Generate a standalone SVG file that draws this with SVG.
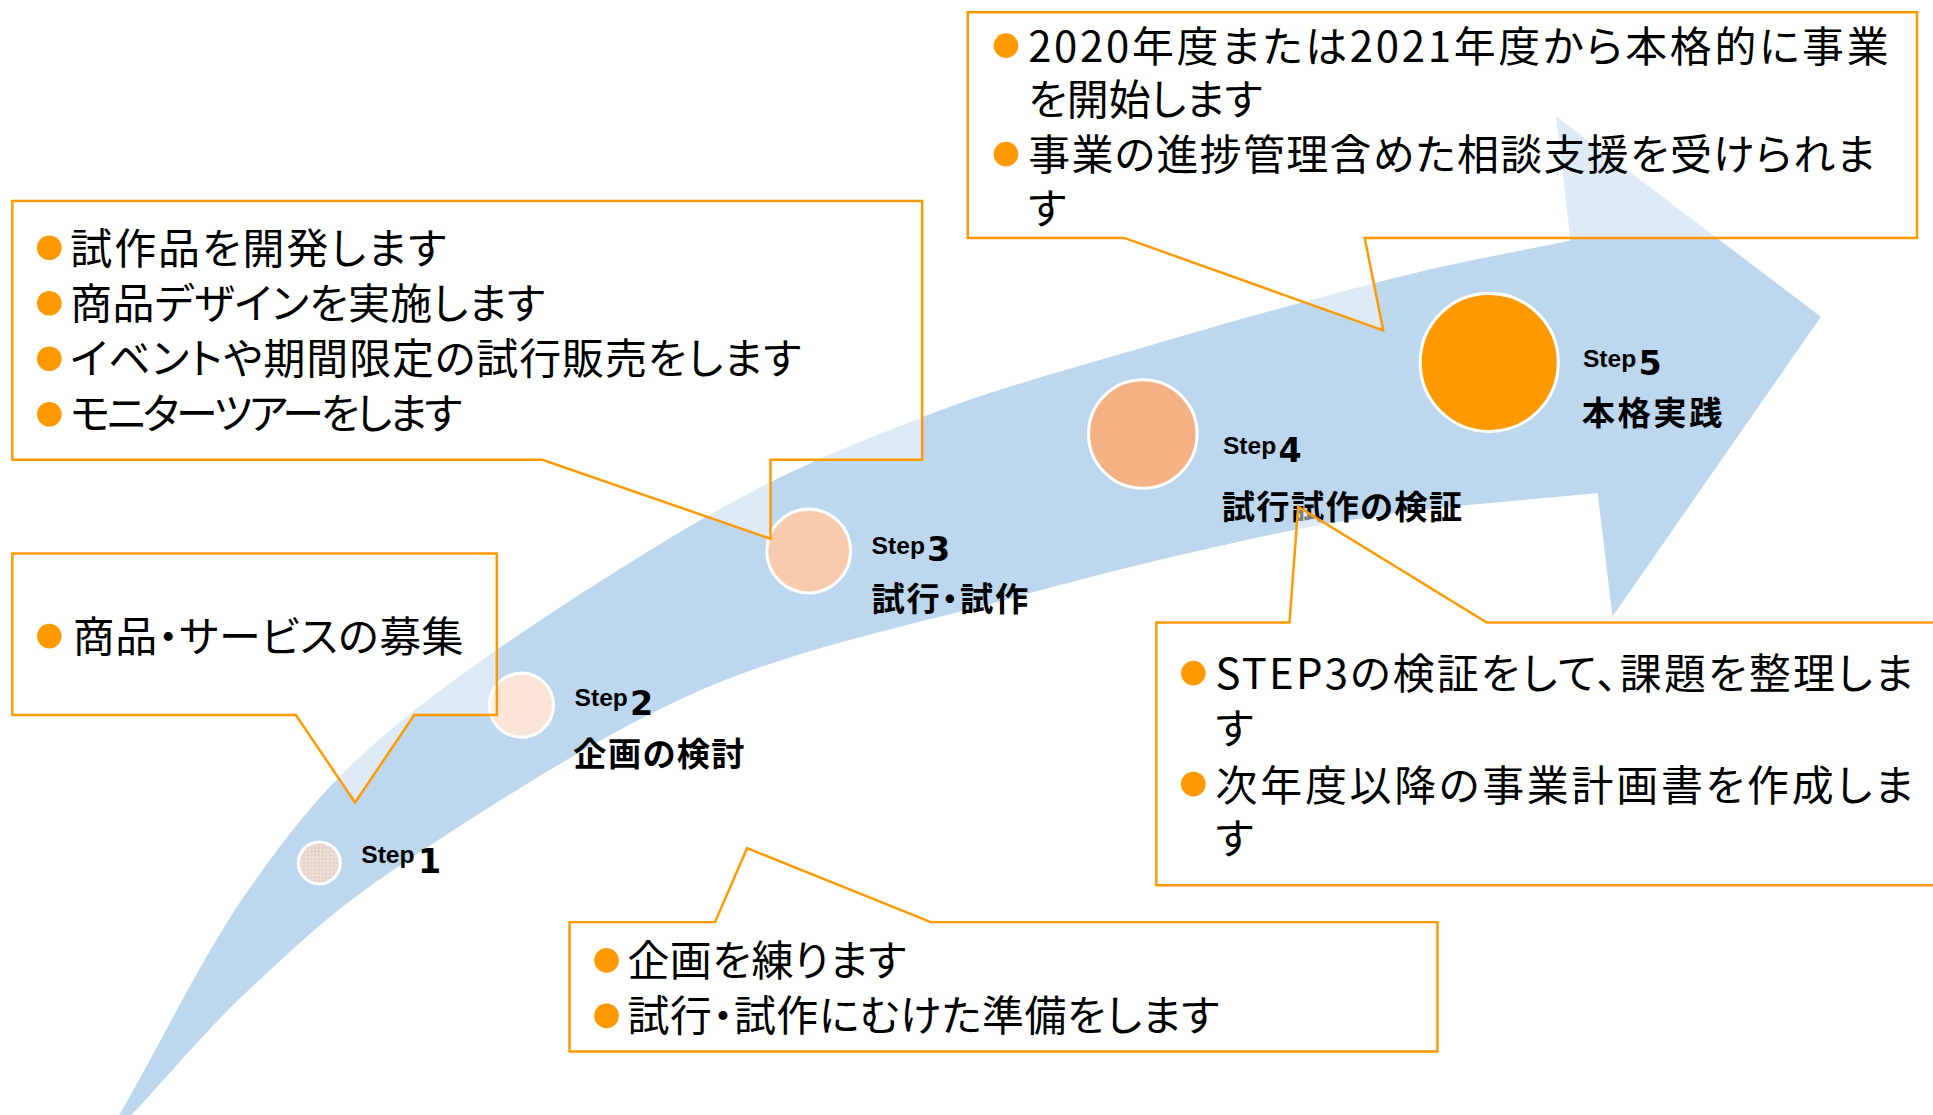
<svg xmlns="http://www.w3.org/2000/svg" width="1933" height="1115" viewBox="0 0 1933 1115">
<defs>
<style>
.callout{fill:#ffffff;fill-opacity:0.5;stroke:#FF9900;stroke-width:2;stroke-linejoin:miter}
.txt{font-family:"Noto Sans CJK JP","Noto Sans",sans-serif;font-size:34px;fill:#000;font-feature-settings:"palt"}
.bullet{fill:#FF9900}
.step{font-family:"Liberation Sans",Arial,sans-serif;font-weight:bold;font-size:20px;fill:#000}
.num{font-family:"DejaVu Sans","Liberation Sans",sans-serif;font-weight:bold;font-size:27px;fill:#000}
.lbl{font-family:"Noto Sans CJK JP","Noto Sans",sans-serif;font-weight:bold;font-size:27px;fill:#000;font-feature-settings:"palt"}
.circ{stroke:#ffffff;stroke-width:2.5}
</style>
<pattern id="dots" width="3" height="3" patternUnits="userSpaceOnUse">
<rect width="3" height="3" fill="#EEDCD3"/>
<rect width="1.4" height="1.4" fill="#D2CAC7"/>
</pattern>
</defs>
<rect width="1933" height="1115" fill="#ffffff"/>
<g transform="scale(1.2328)">
<g id="flow-arrow">
<path fill="#BDD7EE" d="M84.5,925.6 L97,904 C133,841.7 166.3,770.7 205,717 C243.7,663.3 268.5,631.2 329,582 C389.5,532.8 498,462.7 568,422 C638,381.3 688.7,361.5 749,338 C809.3,314.5 866,299.8 930,281 C994,262.2 1075.7,239.3 1133,225 C1190.3,210.7 1227,205 1274,195 L1262,94 L1477,257 L1308,500 L1296,400 C1242.3,405.3 1184,409.3 1135,416 C1086,422.7 1054.3,428.5 1002,440 C949.7,451.5 893.3,465 821,485 C748.7,505 650,524.3 568,560 C486,595.7 389.5,659 329,699 C268.5,739 242,765.8 205,800 C168,834.2 139.7,869.3 107,904 Z"/>
</g>
<g id="step1">
<circle class="circ" cx="259" cy="700" r="17" fill="url(#dots)"/>
<text class="step" x="293" y="700">Step</text>
<text class="num" x="339" y="708">1</text>
</g>
<g id="step2">
<circle class="circ" cx="423" cy="572" r="26" fill="#FBE5D6"/>
<text class="step" x="466" y="573">Step</text>
<text class="num" x="511" y="580">2</text>
<text class="lbl" x="465" y="621" textLength="139">企画の検討</text>
</g>
<g id="step3">
<circle class="circ" cx="656" cy="447" r="34" fill="#F8CBAD"/>
<text class="step" x="707" y="449">Step</text>
<text class="num" x="752" y="455">3</text>
<text class="lbl" x="707" y="496" textLength="127">試行・試作</text>
</g>
<g id="step4">
<circle class="circ" cx="927" cy="352" r="44" fill="#F4B183"/>
<text class="step" x="992" y="368">Step</text>
<text class="num" x="1037" y="375">4</text>
<text class="lbl" x="991" y="421" textLength="195">試行試作の検証</text>
</g>
<g id="step5">
<circle class="circ" cx="1208" cy="294" r="56" fill="#FF9900"/>
<text class="step" x="1284" y="298">Step</text>
<text class="num" x="1329" y="304">5</text>
<text class="lbl" x="1283" y="345" textLength="114">本格実践</text>
</g>
<g id="callout-step5">
<path class="callout" d="M785,10 H1555 V193 H1107 L1122,268 L912,193 H785 Z"/>
<circle class="bullet" cx="816" cy="37" r="10"/>
<text class="txt" x="834" y="50" textLength="698">2020年度または2021年度から本格的に事業</text>
<text class="txt" x="834" y="93.5" textLength="190">を開始します</text>
<circle class="bullet" cx="816" cy="125" r="10"/>
<text class="txt" x="834" y="137.5" textLength="687">事業の進捗管理含めた相談支援を受けられま</text>
<text class="txt" x="834" y="181.5">す</text>
</g>
<g id="callout-step3">
<path class="callout" d="M10,163 H748 V373 H625 V437 L440,373 H10 Z"/>
<circle class="bullet" cx="40" cy="201" r="10"/>
<text class="txt" x="57" y="214" textLength="305">試作品を開発します</text>
<circle class="bullet" cx="40" cy="246" r="10"/>
<text class="txt" x="57" y="258.5" textLength="385">商品デザインを実施します</text>
<circle class="bullet" cx="40" cy="291" r="10"/>
<text class="txt" x="57" y="303.2" textLength="593">イベントや期間限定の試行販売をします</text>
<circle class="bullet" cx="40" cy="336" r="10"/>
<text class="txt" x="57" y="347.8" textLength="318">モニターツアーをします</text>
</g>
<g id="callout-step1">
<path class="callout" d="M10,449 H403 V580 H336 L288,651 L240,580 H10 Z"/>
<circle class="bullet" cx="40" cy="516" r="10"/>
<text class="txt" x="59" y="528.5" textLength="317">商品・サービスの募集</text>
</g>
<g id="callout-step2">
<path class="callout" d="M462,748 H580 L606,688 L755,748 H1166 V853 H462 Z"/>
<circle class="bullet" cx="492" cy="779" r="10"/>
<text class="txt" x="509" y="792" textLength="226">企画を練ります</text>
<circle class="bullet" cx="492" cy="824" r="10"/>
<text class="txt" x="509" y="836.5" textLength="480">試行・試作にむけた準備をします</text>
</g>
<g id="callout-step4">
<path class="callout" d="M938,505 H1046 L1053,411 L1206,505 H1590 V718 H938 Z"/>
<circle class="bullet" cx="968" cy="546" r="10"/>
<text class="txt" x="986" y="558.5" textLength="566">STEP3の検証をして、課題を整理しま</text>
<text class="txt" x="986" y="603.5">す</text>
<circle class="bullet" cx="968" cy="636" r="10"/>
<text class="txt" x="986" y="649.5" textLength="566">次年度以降の事業計画書を作成しま</text>
<text class="txt" x="986" y="692.5">す</text>
</g>
</g>
</svg>
